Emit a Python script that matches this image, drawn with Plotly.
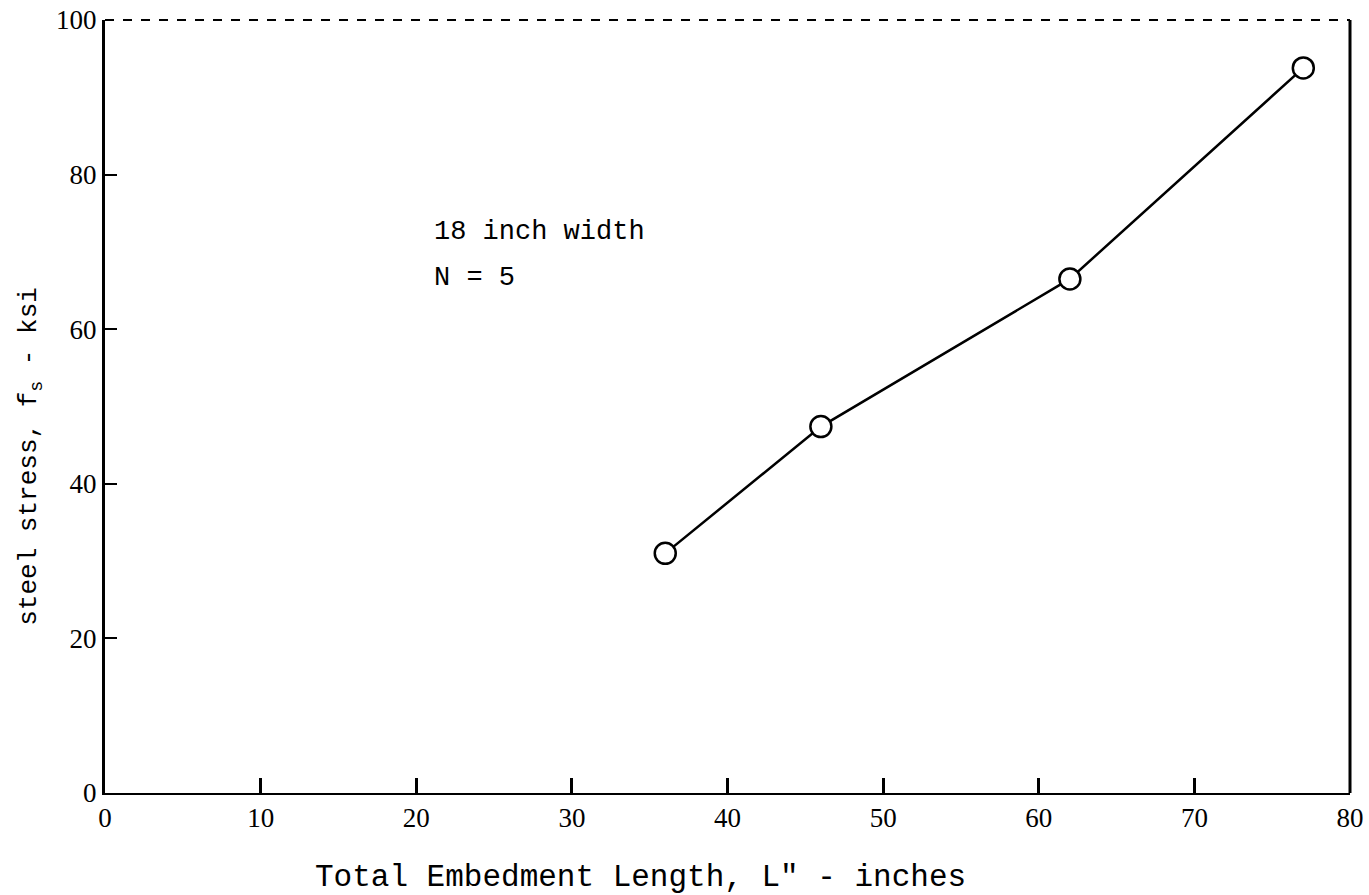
import plotly.graph_objects as go

embed_len = [36, 46, 62, 77]
steel_stress = [31.0, 47.4, 66.5, 93.8]
x_ticks = [0, 10, 20, 30, 40, 50, 60, 70, 80]
y_ticks = [0, 20, 40, 60, 80, 100]

fig = go.Figure()
fig.add_trace(go.Scatter(
    x=embed_len, y=steel_stress, mode="lines+markers",
    line=dict(color="black", width=2.5),
    marker=dict(symbol="circle", size=21, color="white",
                line=dict(color="black", width=2.5)),
    showlegend=False, cliponaxis=False))

serif = "Liberation Serif"
mono = "Liberation Mono"

fig.update_layout(
    width=1369, height=895,
    margin=dict(l=105, r=19, t=20, b=102),
    paper_bgcolor="white", plot_bgcolor="white",
    xaxis=dict(range=[0, 80], tickvals=x_ticks, ticks="inside", ticklen=15,
               tickwidth=2.5, tickcolor="black", showgrid=False, zeroline=False,
               showline=True, linecolor="black", linewidth=2, automargin=False,
               tickfont=dict(family=serif, size=27, color="black")),
    yaxis=dict(range=[0, 100], tickvals=y_ticks, ticks="inside", ticklen=12,
               tickwidth=1.5, tickcolor="black", showgrid=False, zeroline=False,
               showline=True, linecolor="black", linewidth=3, automargin=False,
               tickfont=dict(family=serif, size=27, color="black")),
    shapes=[
        dict(type="line", xref="paper", yref="paper", x0=0, x1=1, y0=1, y1=1,
             line=dict(color="black", width=2, dash="dash")),
        dict(type="line", xref="paper", yref="paper", x0=1, x1=1, y0=0, y1=1,
             line=dict(color="black", width=3)),
    ],
    annotations=[
        dict(x=21.0, y=72.6, xref="x", yref="y", text="18 inch width",
             showarrow=False, xanchor="left",
             font=dict(family=mono, size=27, color="black")),
        dict(x=21.0, y=66.6, xref="x", yref="y", text="N = 5",
             showarrow=False, xanchor="left",
             font=dict(family=mono, size=27, color="black")),
        dict(x=0.43, y=0, xref="paper", yref="paper", yshift=-84,
             text="Total Embedment Length, L\" - inches", showarrow=False,
             xanchor="center", yanchor="middle",
             font=dict(family=mono, size=31, color="black")),
        dict(x=0, y=0.435, xref="paper", yref="paper", xshift=-75,
             text="steel stress, f<sub>s</sub> - ksi", showarrow=False,
             textangle=-90, xanchor="center", yanchor="middle",
             font=dict(family=mono, size=26, color="black")),
    ],
)

fig.write_html("out.html")
